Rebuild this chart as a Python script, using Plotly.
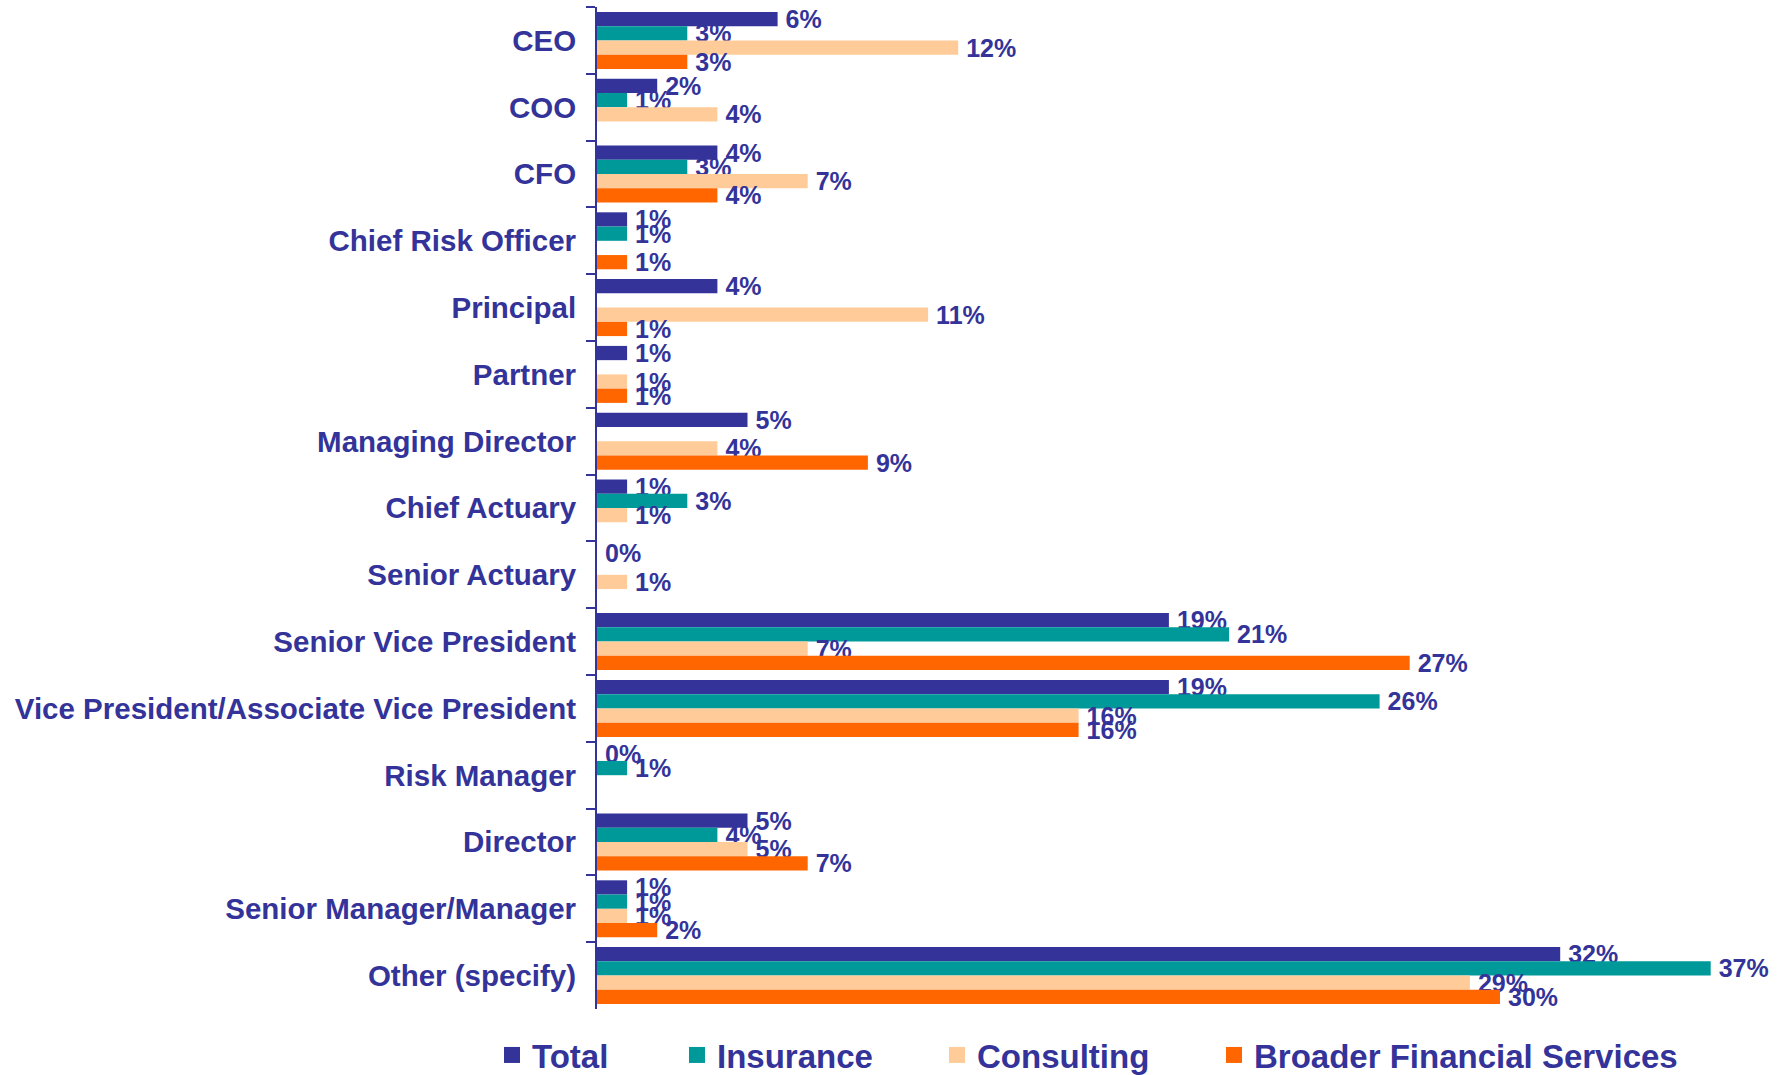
import plotly.graph_objects as go

categories = ["CEO", "COO", "CFO", "Chief Risk Officer", "Principal", "Partner",
              "Managing Director", "Chief Actuary", "Senior Actuary", "Senior Vice President",
              "Vice President/Associate Vice President", "Risk Manager", "Director",
              "Senior Manager/Manager", "Other (specify)"]

total =      [6, 2, 4, 1, 4, 1, 5, 1, 0, 19, 19, 0, 5, 1, 32]
insurance =  [3, 1, 3, 1, None, None, None, 3, None, 21, 26, 1, 4, 1, 37]
consulting = [12, 4, 7, None, 11, 1, 4, 1, 1, 7, 16, None, 5, 1, 29]
broader =    [3, None, 4, 1, 1, 1, 9, None, None, 27, 16, None, 7, 2, 30]

series_names = ["Total", "Insurance", "Consulting", "Broader Financial Services"]
series_values = [total, insurance, consulting, broader]
colors = ["#333399", "#009999", "#FFCC99", "#FF6600"]
text_color = "#333399"

W, H = 1777, 1075
ml, mr, mt = 597, 20, 7
plot_bottom = 1009
mb = H - plot_bottom
plot_w = W - ml - mr
plot_h = plot_bottom - mt
px_per_pct = 30.1

# legend text start positions in the window (pixels)
legend_text_px = [533, 718, 978, 1255]
legend_ids = ["legend", "legend2", "legend3", "legend4"]
legend_center_y = 1055

fig = go.Figure()
for name, vals, col, lid in zip(series_names, series_values, colors, legend_ids):
    fig.add_trace(go.Bar(
        name=name, y=categories, x=vals, orientation="h",
        marker=dict(color=col, line=dict(width=0)),
        texttemplate="\u2009%{x}%", textposition="outside",
        textfont=dict(family="Arial", size=25, color=text_color, weight="bold"),
        constraintext="none", cliponaxis=False,
        showlegend=False,
    ))
    # legend entry with a larger square swatch
    fig.add_trace(go.Scatter(
        name=name, x=[None], y=[None], mode="markers",
        marker=dict(symbol="square", size=16, color=col, line=dict(width=0)),
        legend=lid, showlegend=True, hoverinfo="skip",
    ))

layout_legends = {}
for lid, px in zip(legend_ids, legend_text_px):
    layout_legends[lid] = dict(
        x=(px - 41 - ml) / plot_w, xanchor="left",
        y=-(legend_center_y - plot_bottom) / plot_h, yanchor="middle",
        orientation="h",
        font=dict(family="Arial", size=33, color=text_color, weight="bold"),
        bgcolor="rgba(0,0,0,0)", borderwidth=0,
    )

fig.update_layout(
    width=W, height=H,
    margin=dict(l=ml, r=mr, t=mt, b=mb, autoexpand=False),
    barmode="group", bargap=0.147, bargroupgap=0,
    plot_bgcolor="white", paper_bgcolor="white",
    showlegend=True,
    xaxis=dict(range=[0, plot_w / px_per_pct], visible=False, showgrid=False, zeroline=False),
    yaxis=dict(
        autorange="reversed", type="category",
        showline=True, linecolor=text_color, linewidth=2,
        ticks="outside", tickson="boundaries", ticklen=9, tickcolor=text_color, tickwidth=2,
        ticklabelstandoff=13,
        tickfont=dict(family="Arial", size=29.5, color=text_color, weight="bold"),
        showgrid=False, zeroline=False,
    ),
    **layout_legends,
)

fig.write_html(
    "out.html",
    config={"displayModeBar": False},
    post_script="document.body.style.margin='0';document.body.style.overflow='hidden';",
)
